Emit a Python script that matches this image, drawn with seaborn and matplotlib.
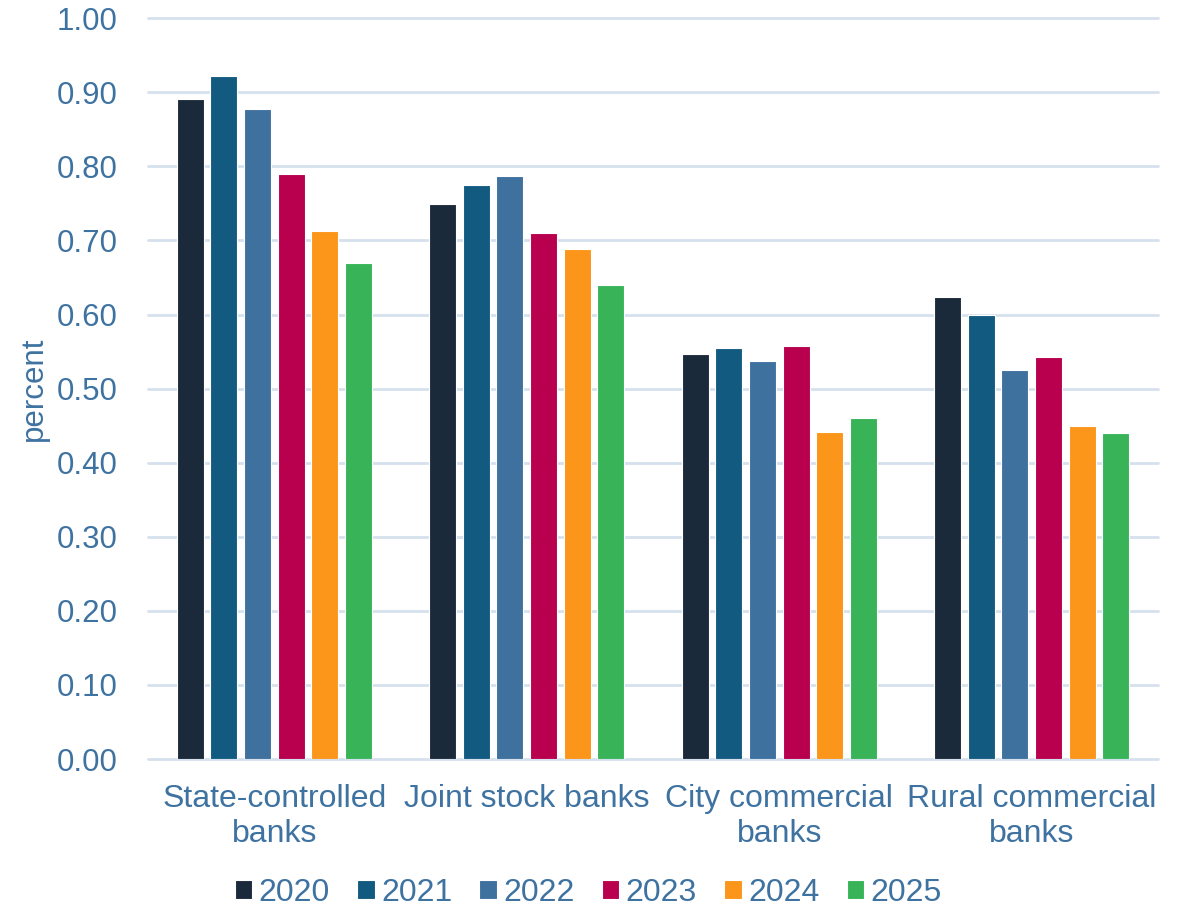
import matplotlib
matplotlib.use("Agg")
import matplotlib.pyplot as plt
import seaborn as sns
import pandas as pd

categories = ["State-controlled\nbanks", "Joint stock banks", "City commercial\nbanks", "Rural commercial\nbanks"]
years = ["2020", "2021", "2022", "2023", "2024", "2025"]
v2020 = [0.891, 0.749, 0.547, 0.623]
v2021 = [0.922, 0.775, 0.555, 0.600]
v2022 = [0.877, 0.787, 0.537, 0.525]
v2023 = [0.790, 0.710, 0.557, 0.543]
v2024 = [0.713, 0.688, 0.441, 0.449]
v2025 = [0.670, 0.640, 0.460, 0.440]
colors = ["#1B2A3A", "#135A81", "#3E719E", "#B8004E", "#FB961A", "#38B358"]
yticks = [0.0, 0.1, 0.2, 0.3, 0.4, 0.5, 0.6, 0.7, 0.8, 0.9, 1.0]

series = [v2020, v2021, v2022, v2023, v2024, v2025]
rows = []
for y, vals in zip(years, series):
    for c, v in zip(categories, vals):
        rows.append({"category": c, "year": y, "value": v})
df = pd.DataFrame(rows)

sns.set_theme(style="white")
plt.rcParams["font.family"] = ["Liberation Sans", "DejaVu Sans"]
txt = "#3E72A0"
grid = "#D5E1EE"

fig = plt.figure(figsize=(11.86, 9.09), dpi=100)
ax = fig.add_axes([0.1248, 0.165, 0.8516, 0.815])

sns.barplot(data=df, x="category", y="value", hue="year", order=categories,
            hue_order=years, palette=colors, saturation=1, width=0.8, gap=0.2,
            edgecolor="white", linewidth=0.8, ax=ax, zorder=3)

ax.set_ylim(0, 1.0)
ax.set_xlim(-0.5, 3.5)
ax.set_yticks(yticks)
ax.set_yticklabels([f"{t:.2f}" for t in yticks])
for s in ax.spines.values():
    s.set_visible(False)
ax.set_axisbelow(True)
for yv in yticks:
    ax.axhline(yv, color=grid, linewidth=2, zorder=0, clip_on=False)
ax.tick_params(axis="y", length=0, pad=22, labelsize=22.5, labelcolor=txt)
ax.tick_params(axis="x", length=0, pad=18, labelsize=23, labelcolor=txt)
ax.set_xlabel("")
ax.set_ylabel("percent", color=txt, fontsize=22.5)
ax.yaxis.set_label_coords(-0.098, 0.5)

ax.legend_.remove()
handles, labels = ax.get_legend_handles_labels()
leg = fig.legend(handles, labels, loc="center", bbox_to_anchor=(0.496, 0.0176),
                 ncol=6, frameon=False, fontsize=23, handlelength=0.55,
                 handleheight=0.55, handletextpad=0.2, columnspacing=0.85,
                 labelcolor=txt)

fig.savefig("out.png", dpi=100)
